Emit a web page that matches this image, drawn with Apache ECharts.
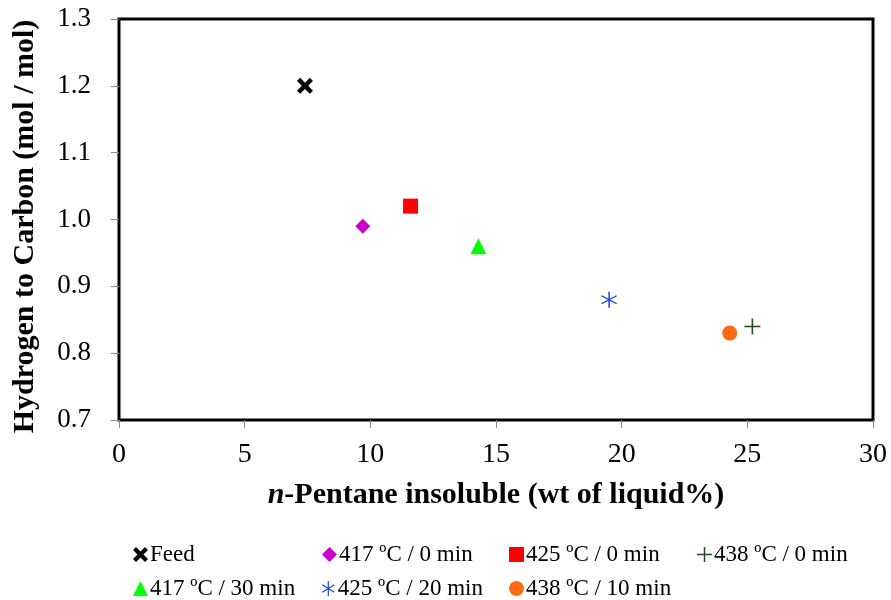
<!DOCTYPE html>
<html><head><meta charset="utf-8">
<script src="https://cdn.jsdelivr.net/npm/echarts@6/dist/echarts.min.js"></script>
<style>html,body{margin:0;padding:0;background:#fff}#c{width:891px;height:600px}</style>
</head><body><div id="c"></div>
<script>
const seriesNames = ['Feed','417 ºC / 0 min','425 ºC / 0 min','438 ºC / 0 min','417 ºC / 30 min','425 ºC / 20 min','438 ºC / 10 min'];
const xValues = [7.4, 9.7, 11.6, 25.2, 14.3, 19.5, 24.3];
const yValues = [1.20, 0.99, 1.02, 0.84, 0.96, 0.88, 0.83];
const xTicks = [0,5,10,15,20,25,30];
const yTicks = [0.7,0.8,0.9,1.0,1.1,1.2,1.3];

const P_X = 'path://M20,0 L50,30 L80,0 L100,20 L70,50 L100,80 L80,100 L50,70 L20,100 L0,80 L30,50 L0,20 Z';
const P_PLUS = 'path://M45,0 L55,0 L55,45 L100,45 L100,55 L55,55 L55,100 L45,100 L45,55 L0,55 L0,45 L45,45 Z';
const P_AST = 'path://M46,0 L54,0 L54,100 L46,100 Z M12.1,21.6 L92.1,71.6 L87.9,78.4 L7.9,28.4 Z M7.9,71.6 L87.9,21.6 L92.1,28.4 L12.1,78.4 Z';
const symbols = [P_X,'diamond','rect',P_PLUS,'triangle',P_AST,'circle'];
const sizes = [16,15,15,16,16,16,15];
const colors = ['#000000','#CC00CC','#FF0000','#1E4D1E','#00FF00','#1F45E0','#FF6A13'];
const legendPos = [[133,543],[322,543],[509,543],[697,543],[133,577],[322,577],[509,577]];

const series = seriesNames.map((n,i)=>({
  name:n, type:'scatter', symbol:symbols[i], symbolSize:sizes[i],
  itemStyle:{color:colors[i], opacity:1},
  data:[[xValues[i], yValues[i]]], z:5
}));
const legends = seriesNames.map((n,i)=>({
  data:[{name:n, icon:symbols[i]}], left:legendPos[i][0], top:legendPos[i][1],
  itemWidth:15, itemHeight:15, itemGap:0, padding:0,
  textStyle:{fontFamily:'Liberation Serif', fontSize:23, color:'#000', padding:[0,0,0,-3]},
  selectedMode:false
}));

const chart = echarts.init(document.getElementById('c'));
chart.setOption({
  animation:false,
  backgroundColor:'#fff',
  legend:legends,
  grid:{left:119,right:18,top:19,bottom:180,show:true,borderColor:'#000',borderWidth:3,backgroundColor:'transparent'},
  xAxis:{type:'value',min:0,max:30,interval:5,
    name:'{i|n}-Pentane insoluble (wt of liquid%)', nameLocation:'middle', nameGap:60,
    nameTextStyle:{fontFamily:'Liberation Serif',fontWeight:'bold',fontSize:30,color:'#000',
      rich:{i:{fontFamily:'Liberation Serif',fontWeight:'bold',fontStyle:'italic',fontSize:30,color:'#000'}}},
    axisLine:{show:false}, axisTick:{show:true,inside:false,length:8,lineStyle:{color:'#888'}},
    splitLine:{show:false},
    axisLabel:{fontFamily:'Liberation Serif',fontSize:28,color:'#000',margin:21,
      formatter:v=>xTicks.includes(v)?String(v):''}},
  yAxis:{type:'value',min:0.7,max:1.3,interval:0.1,
    name:'Hydrogen to Carbon (mol / mol)', nameLocation:'middle', nameGap:79,
    nameTextStyle:{fontFamily:'Liberation Serif',fontWeight:'bold',fontSize:30,color:'#000',padding:[0,14,0,0]},
    axisLine:{show:false}, axisTick:{show:true,inside:false,length:8,lineStyle:{color:'#888'}},
    splitLine:{show:false},
    axisLabel:{fontFamily:'Liberation Serif',fontSize:27,color:'#000',margin:28,
      formatter:v=>{const t=yTicks.find(k=>Math.abs(k-v)<1e-6);return t===undefined?'':t.toFixed(1);}}},
  series:series
});
</script></body></html>
